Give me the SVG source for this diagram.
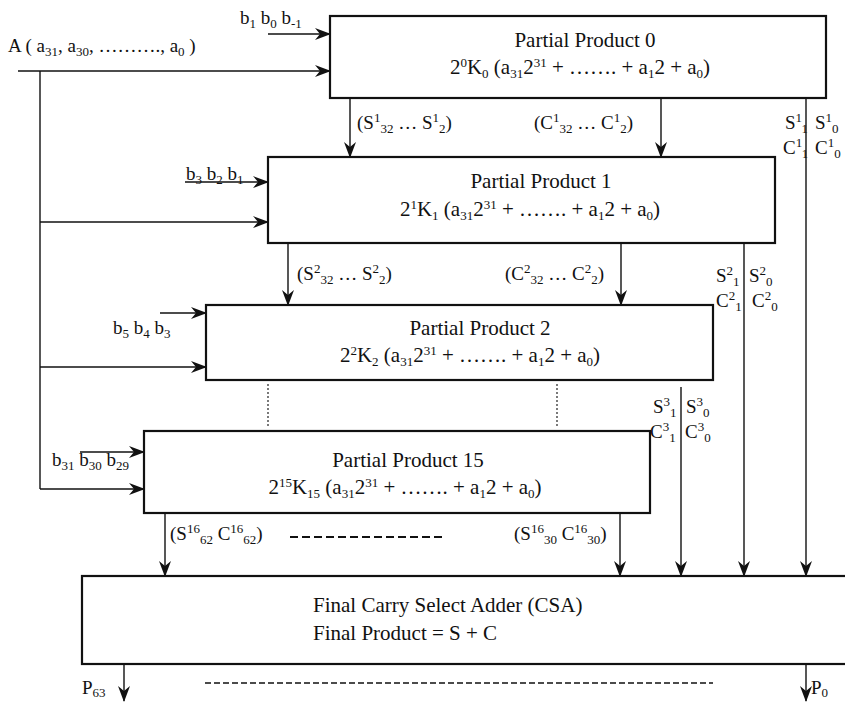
<svg xmlns="http://www.w3.org/2000/svg" width="845" height="704" viewBox="0 0 845 704">
<defs>
<style>
text{font-family:"Liberation Serif","Times New Roman",serif;fill:#111;}
.t{font-size:21px;}
.l{font-size:19px;}
.sb{font-size:13px;baseline-shift:-4px;}
.sp{font-size:13px;baseline-shift:7px;}
.box{fill:#fff;stroke:#111;stroke-width:2.2;}
.c{fill:none;stroke:#111;stroke-width:1.4;}
.a{marker-end:url(#ah);}
.dot{fill:none;stroke:#333;stroke-width:1.3;stroke-dasharray:2 2;}
.dash{fill:none;stroke:#111;stroke-width:1.8;stroke-dasharray:8 4;}
</style>
<marker id="ah" viewBox="0 0 16 12" refX="15" refY="6" markerWidth="16" markerHeight="12" markerUnits="userSpaceOnUse" orient="auto">
<path d="M0,0 L16,6 L0,12 L5,6 z" fill="#111"/>
</marker>
</defs>
<rect width="845" height="704" fill="#fff"/>

<g id="connectors">
<line class="c a" x1="268" y1="34" x2="330" y2="34"/>
<line class="c a" x1="18" y1="71" x2="330" y2="71"/>
<polyline class="c" points="40,71 40,489"/>
<line class="c a" x1="350" y1="98" x2="350" y2="157"/>
<line class="c a" x1="661" y1="98" x2="661" y2="157"/>
<line class="c a" x1="806" y1="98" x2="806" y2="576"/>
<line class="c a" x1="185" y1="182" x2="268" y2="182"/>
<line class="c a" x1="40" y1="222" x2="268" y2="222"/>
<line class="c a" x1="288" y1="243" x2="288" y2="305"/>
<line class="c a" x1="621" y1="243" x2="621" y2="305"/>
<line class="c a" x1="744" y1="243" x2="744" y2="576"/>
<line class="c a" x1="160" y1="313" x2="206" y2="313"/>
<line class="c a" x1="40" y1="367" x2="206" y2="367"/>
<line class="dot" x1="268" y1="384" x2="268" y2="426"/>
<line class="dot" x1="557" y1="384" x2="557" y2="426"/>
<line class="c a" x1="681" y1="387" x2="681" y2="576"/>
<line class="c a" x1="80" y1="452" x2="144" y2="452"/>
<line class="c a" x1="40" y1="489" x2="144" y2="489"/>
<line class="c a" x1="165" y1="513" x2="165" y2="576"/>
<line class="c a" x1="620" y1="513" x2="620" y2="576"/>
<line class="dash" x1="290" y1="537" x2="442" y2="537"/>
<line class="c a" x1="124" y1="664" x2="124" y2="701"/>
<line class="c a" x1="806" y1="664" x2="806" y2="701"/>
<line class="dash" x1="205" y1="683" x2="713" y2="683" style="stroke-width:1.5;stroke-dasharray:6 3"/>
<path d="M572,84 Q600,88 628,92 M636,92 L648,93" fill="none" stroke="#222" stroke-width="1.8"/>

<text class="l" x="8" y="52">A ( a<tspan class="sb">31</tspan>, a<tspan class="sb">30</tspan>, ………., a<tspan class="sb">0</tspan> )</text>
<text class="l" x="240" y="24">b<tspan class="sb">1</tspan> b<tspan class="sb">0</tspan> b<tspan class="sb">-1</tspan></text>
<text class="l" x="357" y="129">(S<tspan class="sp">1</tspan><tspan class="sb">32</tspan> … S<tspan class="sp">1</tspan><tspan class="sb">2</tspan>)</text>
<text class="l" x="534" y="129">(C<tspan class="sp">1</tspan><tspan class="sb">32</tspan> … C<tspan class="sp">1</tspan><tspan class="sb">2</tspan>)</text>
<text class="l" x="785" y="129">S<tspan class="sp">1</tspan><tspan class="sb">1</tspan></text>
<text class="l" x="815" y="129">S<tspan class="sp">1</tspan><tspan class="sb">0</tspan></text>
<text class="l" x="783" y="154">C<tspan class="sp">1</tspan><tspan class="sb">1</tspan></text>
<text class="l" x="815" y="154">C<tspan class="sp">1</tspan><tspan class="sb">0</tspan></text>
<text class="l" x="186" y="180">b<tspan class="sb">3</tspan> b<tspan class="sb">2</tspan> b<tspan class="sb">1</tspan></text>
<text class="l" x="297" y="280">(S<tspan class="sp">2</tspan><tspan class="sb">32</tspan> … S<tspan class="sp">2</tspan><tspan class="sb">2</tspan>)</text>
<text class="l" x="505" y="280">(C<tspan class="sp">2</tspan><tspan class="sb">32</tspan> … C<tspan class="sp">2</tspan><tspan class="sb">2</tspan>)</text>
<text class="l" x="716" y="282">S<tspan class="sp">2</tspan><tspan class="sb">1</tspan></text>
<text class="l" x="749" y="282">S<tspan class="sp">2</tspan><tspan class="sb">0</tspan></text>
<text class="l" x="716" y="307">C<tspan class="sp">2</tspan><tspan class="sb">1</tspan></text>
<text class="l" x="752" y="307">C<tspan class="sp">2</tspan><tspan class="sb">0</tspan></text>
<text class="l" x="113" y="334">b<tspan class="sb">5</tspan> b<tspan class="sb">4</tspan> b<tspan class="sb">3</tspan></text>
<text class="l" x="653" y="413">S<tspan class="sp">3</tspan><tspan class="sb">1</tspan></text>
<text class="l" x="686" y="413">S<tspan class="sp">3</tspan><tspan class="sb">0</tspan></text>
<text class="l" x="650" y="438">C<tspan class="sp">3</tspan><tspan class="sb">1</tspan></text>
<text class="l" x="685" y="438">C<tspan class="sp">3</tspan><tspan class="sb">0</tspan></text>
<text class="l" x="52" y="466">b<tspan class="sb">31</tspan> b<tspan class="sb">30</tspan> b<tspan class="sb">29</tspan></text>
<text class="l" x="170" y="540">(S<tspan class="sp">16</tspan><tspan class="sb">62</tspan> C<tspan class="sp">16</tspan><tspan class="sb">62</tspan>)</text>
<text class="l" x="514" y="540">(S<tspan class="sp">16</tspan><tspan class="sb">30</tspan> C<tspan class="sp">16</tspan><tspan class="sb">30</tspan>)</text>
<text class="l" x="82" y="694">P<tspan style="font-size:13px;baseline-shift:-3px">63</tspan></text>
<text class="l" x="811" y="694">P<tspan style="font-size:13px;baseline-shift:-3px">0</tspan></text>
</g>

<g id="pp0">
<rect class="box" x="330" y="16" width="496" height="82"/>
<text class="t" x="585" y="47" text-anchor="middle">Partial Product 0</text>
<text class="t" x="580" y="74" text-anchor="middle">2<tspan class="sp">0</tspan>K<tspan class="sb">0</tspan> (a<tspan class="sb">31</tspan>2<tspan class="sp">31</tspan> + ……. + a<tspan class="sb">1</tspan>2 + a<tspan class="sb">0</tspan>)</text>
</g>

<g id="pp1">
<rect class="box" x="268" y="157" width="507" height="86"/>
<text class="t" x="541" y="188" text-anchor="middle">Partial Product 1</text>
<text class="t" x="530" y="216" text-anchor="middle">2<tspan class="sp">1</tspan>K<tspan class="sb">1</tspan> (a<tspan class="sb">31</tspan>2<tspan class="sp">31</tspan> + ……. + a<tspan class="sb">1</tspan>2 + a<tspan class="sb">0</tspan>)</text>
</g>

<g id="pp2">
<rect class="box" x="206" y="305" width="507" height="75"/>
<text class="t" x="480" y="335" text-anchor="middle">Partial Product 2</text>
<text class="t" x="470" y="362" text-anchor="middle">2<tspan class="sp">2</tspan>K<tspan class="sb">2</tspan> (a<tspan class="sb">31</tspan>2<tspan class="sp">31</tspan> + ……. + a<tspan class="sb">1</tspan>2 + a<tspan class="sb">0</tspan>)</text>
</g>

<g id="pp15">
<rect class="box" x="144" y="431" width="506" height="82"/>
<text class="t" x="408" y="467" text-anchor="middle">Partial Product 15</text>
<text class="t" x="405" y="494" text-anchor="middle">2<tspan class="sp">15</tspan>K<tspan class="sb">15</tspan> (a<tspan class="sb">31</tspan>2<tspan class="sp">31</tspan> + ……. + a<tspan class="sb">1</tspan>2 + a<tspan class="sb">0</tspan>)</text>
</g>

<g id="csa">
<rect class="box" x="82" y="576" width="770" height="88"/>
<text class="t" x="313" y="612">Final Carry Select Adder (CSA)</text>
<text class="t" x="313" y="640">Final Product = S + C</text>
</g>
</svg>
